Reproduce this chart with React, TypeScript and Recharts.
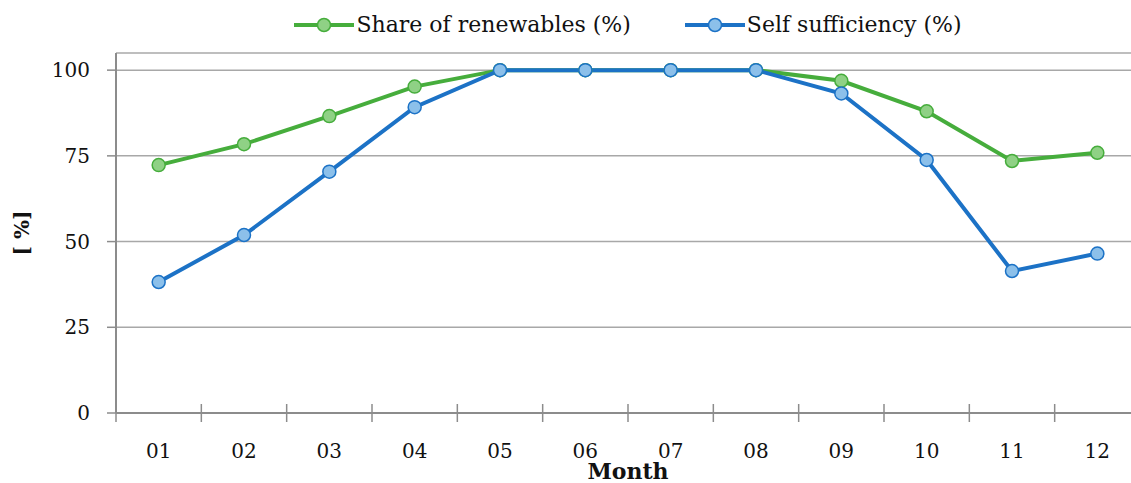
import { LineChart, Line, XAxis, YAxis, CartesianGrid, Legend } from "recharts";

const months = ["01", "02", "03", "04", "05", "06", "07", "08", "09", "10", "11", "12"];
const renewables = [72.3, 78.4, 86.6, 95.2, 100, 100, 100, 100, 96.9, 88.0, 73.5, 75.9];
const selfSufficiency = [38.2, 51.9, 70.4, 89.2, 100, 100, 100, 100, 93.2, 73.8, 41.4, 46.5];
const yTicks = [0, 25, 50, 75, 100];

const data = months.map((m, i) => ({
  month: m,
  renewables: renewables[i],
  self: selfSufficiency[i],
}));

const FONT = "'DejaVu Serif', 'Liberation Serif', serif";
const AXIS = "#8c8c8c";
const GRID = "#a8a8a8";
const TEXT = "#111";

const series: Record<string, { line: string; dot: string }> = {
  renewables: { line: "#46ad3c", dot: "#8fd185" },
  self: { line: "#1c72c6", dot: "#8cc0ea" },
};
const legendOrder = ["renewables", "self"];

const CHART_W = 1150;
const CHART_H = 483;
const MARGIN = { top: 19, right: 10, left: 0, bottom: 0 };
const Y_W = 116;
const PLOT_W = CHART_W - MARGIN.left - MARGIN.right - Y_W;
const TICK_GAP = 31;

// month labels sit in the band centre, tick marks go between the bands
function MonthTick(props: any) {
  const { x, y, payload } = props;
  const band = PLOT_W / months.length;
  const axisY = y - TICK_GAP;
  const lx = x - band / 2;
  return (
    <g>
      <line x1={lx} x2={lx} y1={axisY - 9} y2={axisY + 9} stroke={AXIS} strokeWidth={1.5} />
      <text x={x} y={y} dy="0.71em" textAnchor="middle" fill={TEXT} fontSize={20} fontFamily={FONT}>
        {payload.value}
      </text>
    </g>
  );
}

function LegendContent(props: any) {
  const items = [...(props.payload || [])].sort(
    (a: any, b: any) => legendOrder.indexOf(a.dataKey) - legendOrder.indexOf(b.dataKey)
  );
  return (
    <div style={{ display: "flex", justifyContent: "center", alignItems: "center", gap: 54, height: 34 }}>
      {items.map((it: any) => {
        const c = series[it.dataKey as string];
        return (
          <div key={it.dataKey} style={{ display: "flex", alignItems: "center" }}>
            <svg width={60} height={16}>
              <line x1={0} x2={60} y1={8} y2={8} stroke={c.line} strokeWidth={4} />
              <circle cx={30} cy={8} r={6.5} fill={c.dot} stroke={c.line} strokeWidth={1.5} />
            </svg>
            <span style={{ marginLeft: 2, fontFamily: FONT, fontSize: 22, color: TEXT, lineHeight: "26px" }}>{it.value}</span>
          </div>
        );
      })}
    </div>
  );
}

function YLabel(props: any) {
  const vb = props.viewBox || { x: 0, y: 53, width: Y_W, height: 360 };
  const cx = vb.x + 22;
  const cy = vb.y + vb.height / 2;
  return (
    <text
      x={cx}
      y={cy}
      transform={`rotate(-90 ${cx} ${cy})`}
      textAnchor="middle"
      dominantBaseline="central"
      fontFamily={FONT}
      fontWeight="bold"
      fontSize={20}
      fill={TEXT}
    >
      [ %]
    </text>
  );
}

export default function App() {
  return (
    <div style={{ position: "absolute", left: 0, top: 0, width: 1131, height: CHART_H, overflow: "hidden", background: "#fff" }}>
      <LineChart width={CHART_W} height={CHART_H} data={data} margin={MARGIN}>
        <CartesianGrid vertical={false} stroke={GRID} strokeWidth={1.5} />
        <XAxis
          dataKey="month"
          scale="band"
          height={70}
          tickLine={false}
          tickSize={0}
          tickMargin={TICK_GAP}
          axisLine={{ stroke: AXIS, strokeWidth: 2 }}
          tick={<MonthTick />}
          interval={0}
          label={{ value: "Month", position: "insideBottom", offset: 4, fontFamily: FONT, fontWeight: "bold", fontSize: 22, fill: TEXT }}
        />
        <YAxis
          width={Y_W}
          domain={[0, 105]}
          ticks={yTicks}
          tickSize={9}
          tickMargin={17}
          axisLine={{ stroke: AXIS, strokeWidth: 2 }}
          tickLine={{ stroke: AXIS, strokeWidth: 1.5 }}
          tick={{ fill: TEXT, fontSize: 20, fontFamily: FONT }}
          label={{ content: <YLabel /> }}
        />
        <Legend
          verticalAlign="top"
          height={34}
          wrapperStyle={{ top: 8, left: Y_W, width: PLOT_W }}
          content={<LegendContent />}
        />
        <Line
          dataKey="renewables"
          name="Share of renewables (%)"
          stroke={series.renewables.line}
          strokeWidth={4}
          dot={{ r: 6.5, fill: series.renewables.dot, stroke: series.renewables.line, strokeWidth: 1.5 }}
          activeDot={false}
          isAnimationActive={false}
        />
        <Line
          dataKey="self"
          name="Self sufficiency (%)"
          stroke={series.self.line}
          strokeWidth={4}
          dot={{ r: 6.5, fill: series.self.dot, stroke: series.self.line, strokeWidth: 1.5 }}
          activeDot={false}
          isAnimationActive={false}
        />
      </LineChart>
    </div>
  );
}
